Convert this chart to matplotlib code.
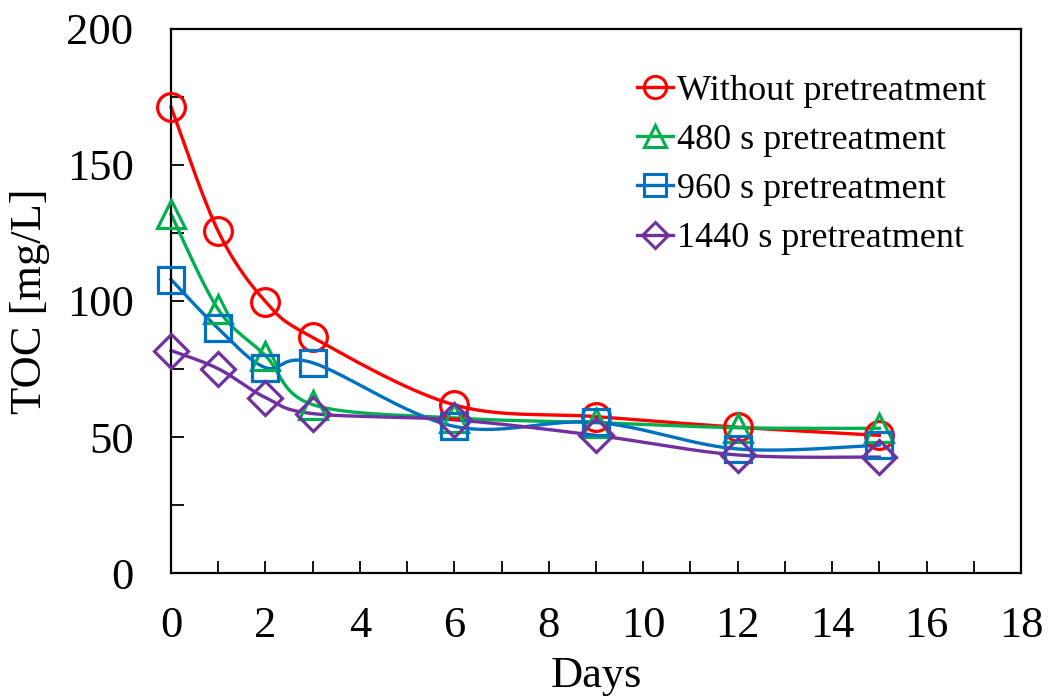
import numpy as np
import matplotlib
matplotlib.use("Agg")
import matplotlib.pyplot as plt
from matplotlib.ticker import MultipleLocator

# Sampling days
days = [0, 1, 2, 3, 6, 9, 12, 15]

# TOC concentrations [mg/L]
toc_none = [171.3, 125.6, 99.8, 86.6, 61.8, 57.5, 53.6, 50.6]
toc_480 = [131.9, 96.9, 79.9, 61.9, 57.0, 55.3, 53.4, 53.2]
toc_960 = [107.9, 89.9, 75.5, 77.3, 53.9, 55.4, 45.6, 47.0]
toc_1440 = [81.8, 75.1, 64.5, 58.6, 56.3, 50.6, 43.4, 42.6]

labels = ["Without pretreatment", "480 s pretreatment",
          "960 s pretreatment", "1440 s pretreatment"]
colors = ["#FF0000", "#00B050", "#0070C0", "#7030A0"]
markers = ["o", "^", "s", "D"]
msizes = [20, 20, 19, 17]

plt.rcParams["font.family"] = ["Liberation Serif", "DejaVu Serif"]


def smooth(x, y, n=40):
    """Cubic Bezier smoothing through every point (Catmull-Rom style)."""
    x = np.asarray(x, float)
    y = np.asarray(y, float)
    px = np.concatenate([[x[0]], x, [x[-1]]])
    py = np.concatenate([[y[0]], y, [y[-1]]])
    xs, ys = [], []
    t = np.linspace(0, 1, n)
    for i in range(len(x) - 1):
        p0 = np.array([px[i + 1], py[i + 1]])
        p3 = np.array([px[i + 2], py[i + 2]])
        c1 = p0 + (np.array([px[i + 2], py[i + 2]]) - np.array([px[i], py[i]])) / 6
        c2 = p3 - (np.array([px[i + 3], py[i + 3]]) - np.array([px[i + 1], py[i + 1]])) / 6
        b = ((1 - t) ** 3)[:, None] * p0 + (3 * (1 - t) ** 2 * t)[:, None] * c1 \
            + (3 * (1 - t) * t ** 2)[:, None] * c2 + (t ** 3)[:, None] * p3
        xs.append(b[:, 0])
        ys.append(b[:, 1])
    return np.concatenate(xs), np.concatenate(ys)


fig = plt.figure(figsize=(10.48, 6.97), dpi=100)
ax = fig.add_axes([0.1632, 0.1779, 0.8110, 0.7805])

series = [toc_none, toc_480, toc_960, toc_1440]
for vals, lab, col, mk, ms in zip(series, labels, colors, markers, msizes):
    sx, sy = smooth(days, vals)
    ax.plot(sx, sy, color=col, lw=2.4, zorder=2, clip_on=False)
    ax.plot(days, vals, linestyle="none", marker=mk, markersize=ms,
            markerfacecolor="none", markeredgecolor=col, markeredgewidth=2.3,
            zorder=3, clip_on=False)
    ax.plot([], [], color=col, lw=2.4, marker=mk, markersize=ms * 0.8,
            markerfacecolor="none", markeredgecolor=col,
            markeredgewidth=2.2, label=lab)

ax.set_xlim(0, 18)
ax.set_ylim(0, 200)
ax.xaxis.set_major_locator(MultipleLocator(2))
ax.xaxis.set_minor_locator(MultipleLocator(1))
ax.yaxis.set_major_locator(MultipleLocator(50))
ax.yaxis.set_minor_locator(MultipleLocator(25))
ax.tick_params(which="both", direction="in", length=9, width=1.3,
               top=False, right=False)
ax.tick_params(axis="x", which="major", labelsize=32, pad=24)
ax.tick_params(axis="y", which="major", labelsize=32, pad=27)
for s in ax.spines.values():
    s.set_linewidth(1.6)

ax.set_xlabel("Days", fontsize=32, labelpad=7)
ax.set_ylabel("TOC [mg/L]", fontsize=32, labelpad=12)

leg = ax.legend(loc="upper left", bbox_to_anchor=(0.531, 0.943),
                frameon=False, fontsize=26, handlelength=1.0,
                handletextpad=0.1, labelspacing=0.44, borderaxespad=0)

fig.savefig("out.png", dpi=100, facecolor="white")
